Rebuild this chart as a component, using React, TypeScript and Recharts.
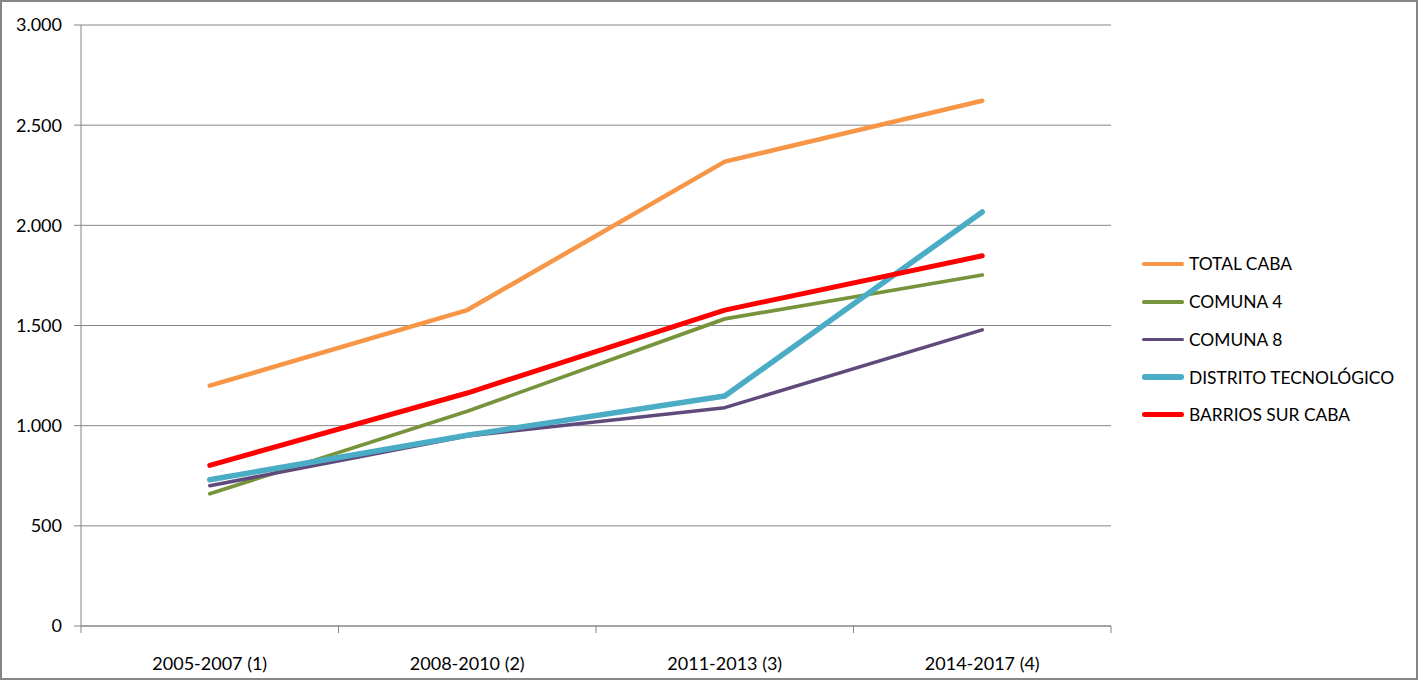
import React from 'react';
import { LineChart, Line, XAxis, YAxis, CartesianGrid } from 'recharts';

const categories = ['2005-2007 (1)', '2008-2010 (2)', '2011-2013 (3)', '2014-2017 (4)'];
const totalCaba = [1200, 1577, 2318, 2622];
const comuna4 = [660, 1072, 1533, 1752];
const comuna8 = [700, 948, 1090, 1478];
const distrito = [730, 952, 1148, 2067];
const barriosSur = [802, 1163, 1577, 1848];
const yTicks = [0, 500, 1000, 1500, 2000, 2500, 3000];

const series = [
  { key: 'total', name: 'TOTAL CABA', values: totalCaba, color: '#F79646', width: 4.5 },
  { key: 'c4', name: 'COMUNA 4', values: comuna4, color: '#77933C', width: 3.75 },
  { key: 'c8', name: 'COMUNA 8', values: comuna8, color: '#604A7B', width: 3.5 },
  { key: 'dt', name: 'DISTRITO TECNOLÓGICO', values: distrito, color: '#4BACC6', width: 5.5 },
  { key: 'bs', name: 'BARRIOS SUR CABA', values: barriosSur, color: '#FF0000', width: 5 },
];

const data = categories.map((c, i) => {
  const row: Record<string, any> = { cat: c };
  series.forEach((s) => {
    row[s.key] = s.values[i];
  });
  return row;
});

const FONT = 'Lato, "Liberation Sans", sans-serif';
const AXIS = '#868686';
const X_TICK_SIZE = 7;
const X_TICK_MARGIN = 24;

const fmt = (v: number) => v.toLocaleString('de-DE');

const CatTick = (props: any) => {
  const { x, y, payload, index, visibleTicksCount } = props;
  const half = typeof payload?.offset === 'number' ? payload.offset : 0;
  const axisY = y - X_TICK_SIZE - X_TICK_MARGIN;
  const isLast = index === visibleTicksCount - 1;
  return (
    <g>
      {half > 0 && (
        <line x1={x - half} x2={x - half} y1={axisY} y2={axisY + X_TICK_SIZE} stroke={AXIS} />
      )}
      {half > 0 && isLast && (
        <line x1={x + half} x2={x + half} y1={axisY} y2={axisY + X_TICK_SIZE} stroke={AXIS} />
      )}
      <text x={x} y={y} dy="0.71em" textAnchor="middle" fill="#000" fontSize={18} fontFamily={FONT}>
        {payload.value}
      </text>
    </g>
  );
};

export default function App() {
  return (
    <div
      style={{
        position: 'absolute',
        left: 0,
        top: 0,
        width: 1418,
        height: 680,
        background: '#fff',
        fontFamily: FONT,
      }}
    >
      <LineChart
        width={1418}
        height={680}
        data={data}
        margin={{ top: 25, right: 307, bottom: 0, left: 0 }}
      >
        <CartesianGrid vertical={false} stroke={AXIS} strokeWidth={1} />
        <XAxis
          dataKey="cat"
          scale="band"
          height={54}
          axisLine={{ stroke: AXIS }}
          tickLine={false}
          tickSize={X_TICK_SIZE}
          tickMargin={X_TICK_MARGIN}
          tick={<CatTick />}
          interval={0}
        />
        <YAxis
          domain={[0, 3000]}
          ticks={yTicks}
          width={81}
          tickFormatter={fmt}
          axisLine={{ stroke: AXIS }}
          tickLine={{ stroke: AXIS }}
          tickSize={7}
          tickMargin={12}
          tick={{ fill: '#000', fontSize: 18, fontFamily: FONT }}
          interval={0}
        />
        {series.map((s) => (
          <Line
            key={s.key}
            dataKey={s.key}
            name={s.name}
            stroke={s.color}
            strokeWidth={s.width}
            strokeLinecap="round"
            strokeLinejoin="round"
            dot={false}
            activeDot={false}
            isAnimationActive={false}
          />
        ))}
      </LineChart>
      <div style={{ position: 'absolute', left: 1142, top: 245 }}>
        {series.map((s) => (
          <div
            key={s.key}
            style={{ display: 'flex', alignItems: 'center', height: 37.75 }}
          >
            <div
              style={{
                width: 42,
                height: s.width,
                background: s.color,
                borderRadius: s.width / 2,
                marginRight: 5,
              }}
            />
            <span style={{ fontSize: 17.4, color: '#000', whiteSpace: 'nowrap' }}>{s.name}</span>
          </div>
        ))}
      </div>
      <div
        style={{
          position: 'absolute',
          left: 0,
          top: 0,
          width: 1418,
          height: 680,
          boxSizing: 'border-box',
          border: `2px solid ${AXIS}`,
          pointerEvents: 'none',
        }}
      />
    </div>
  );
}
